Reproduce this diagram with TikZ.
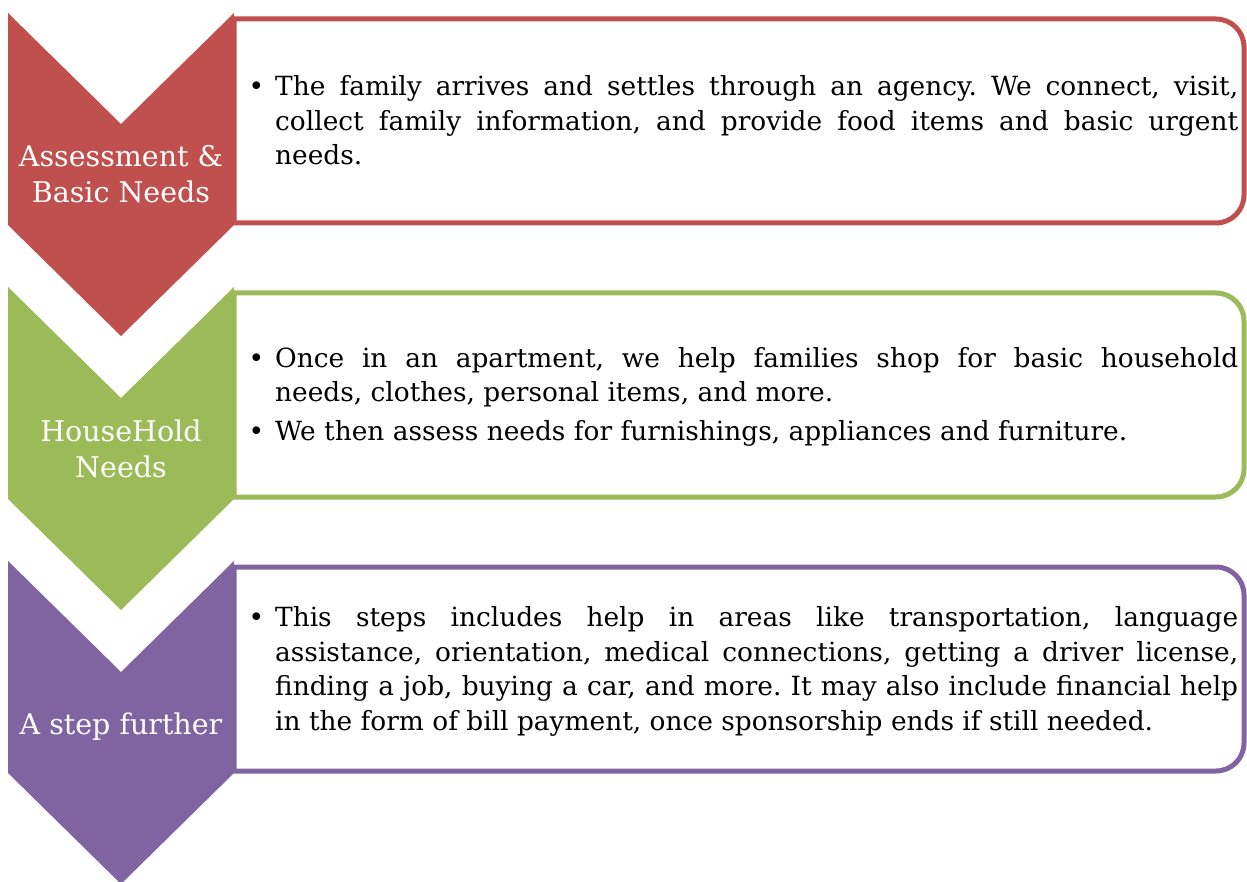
\documentclass[tikz,border=0pt]{standalone}
\usepackage{fontspec}
\setmainfont{DejaVu Serif}
\definecolor{cred}{HTML}{C0504D}
\definecolor{cgreen}{HTML}{9BBB59}
\definecolor{cpurple}{HTML}{8064A2}
\newcommand\mybul{\leavevmode\llap{\textbullet\hspace{11pt}}}
\newcommand\chevron[2]{% #1 top y, #2 colour
  \fill[#2] (8,#1) -- (121,#1+111) -- (234,#1) -- (234,#1+212) -- (121,#1+323) -- (8,#1+212) -- cycle;}
\newcommand\sidebox[2]{% #1 top y, #2 colour
  \draw[boxline, draw=#2] (234,#1+210) -- (234,#1+6) -- (1216,#1+6)
     .. controls (1231.46,#1+6) and (1244,#1+18.54) .. (1244,#1+34)
     -- (1244,#1+182)
     .. controls (1244,#1+197.46) and (1231.46,#1+210) .. (1216,#1+210) -- cycle;}
\begin{document}
\begin{tikzpicture}[x=1pt,y=-1pt,
  boxline/.style={line width=5pt, fill=white, line join=round},
  lab/.style={text=white, font=\fontsize{28.5pt}{36pt}\selectfont, align=center, anchor=base, inner sep=0pt},
  body/.style={anchor=base west, inner sep=0pt, font=\fontsize{26.4pt}{34.5pt}\selectfont}]
\useasboundingbox (0,0) rectangle (1247,882);
\fill[white] (0,0) rectangle (1247,882);
% boxes
\sidebox{13}{cred}
\sidebox{287}{cgreen}
\sidebox{561}{cpurple}
% chevrons
\chevron{13}{cred}
\chevron{287}{cgreen}
\chevron{561}{cpurple}
% labels (base = baseline of last line)
\node[lab] (l1) at (121,203) {Assessment \&\\Basic Needs};
\node[lab] (l2) at (121,477) {HouseHold\\Needs};
\node[lab] (l3) at (121,734) {A step further};
% body texts
\node[body] (t1) at (275,96) {\parbox[t]{963pt}{\frenchspacing\tolerance=10000\hyphenpenalty=10000\relax
\mybul The family arrives and settles through an agency. We connect, visit,\linebreak collect family information, and provide food items and basic urgent\linebreak needs.}};
\node[body] (t2) at (275,367) {\parbox[t]{963pt}{\frenchspacing\tolerance=10000\hyphenpenalty=10000\setlength\parskip{4.5pt}\relax
\mybul Once in an apartment, we help families shop for basic household\linebreak needs, clothes, personal items, and more.\par
\mybul We then assess needs for furnishings, appliances and furniture.}};
\node[body] (t3) at (275,626.5) {\parbox[t]{963pt}{\frenchspacing\tolerance=10000\hyphenpenalty=10000\relax
\mybul This steps includes help in areas like transportation, language\linebreak assistance, orientation, medical connections, getting a driver license,\linebreak finding a job, buying a car, and more. It may also include financial help\linebreak in the form of bill payment, once sponsorship ends if still needed.}};
\end{tikzpicture}
\end{document}
